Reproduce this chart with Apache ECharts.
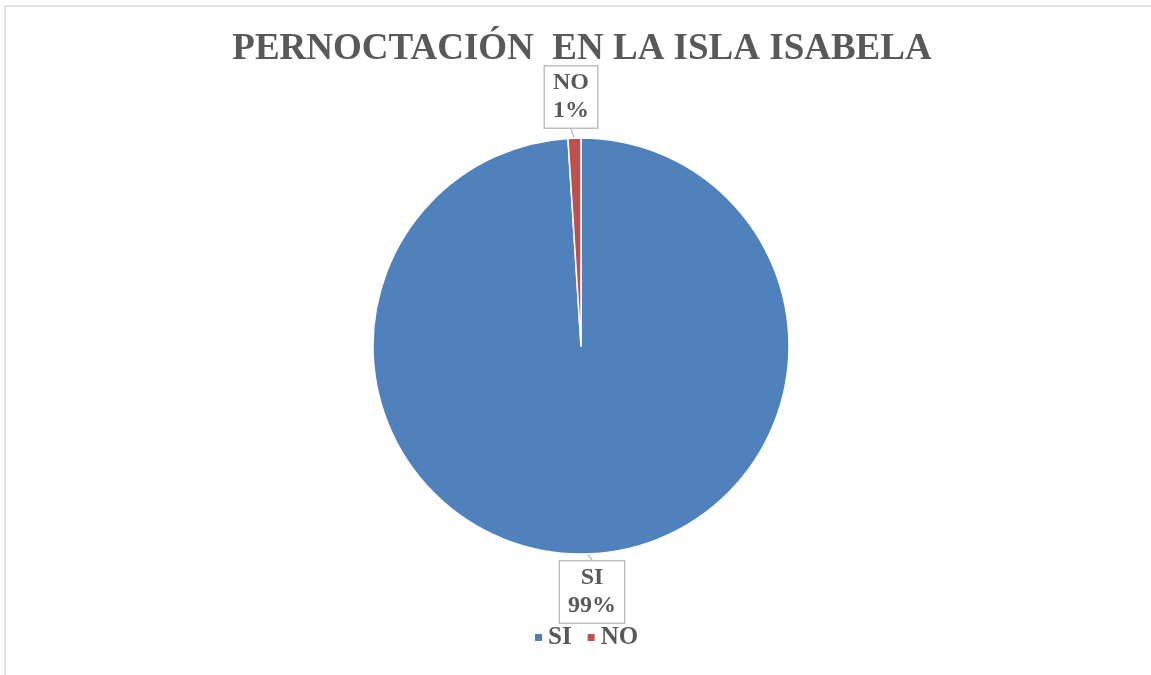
<!DOCTYPE html>
<html>
<head>
<meta charset="utf-8">
<script src="https://cdn.jsdelivr.net/npm/echarts@6/dist/echarts.min.js"></script>
<style>
  html, body { margin: 0; padding: 0; background: #fff; }
  #main { width: 1151px; height: 675px; }
</style>
</head>
<body>
<div id="main"></div>
<script>
const categories = ['SI', 'NO'];
const values = [99, 1];
const colors = ['#4F81BD', '#C0504D'];

const chart = echarts.init(document.getElementById('main'));

const font = '"Liberation Serif", "Times New Roman", serif';

// where the callout boxes sit (centre of each box)
const labelSpots = [[592, 592], [571, 97]];

const option = {
  color: colors,
  graphic: [{
    type: 'rect',
    shape: { x: 5, y: 6, width: 1200, height: 700 },
    style: { fill: 'none', stroke: '#d9d9d9', lineWidth: 1.5 },
    silent: true
  }],
  title: {
    text: 'PERNOCTACIÓN  EN LA ISLA ISABELA',
    left: 577,
    textAlign: 'center',
    top: 26,
    textStyle: {
      fontFamily: font,
      fontSize: 37,
      fontWeight: 'bold',
      color: '#595959'
    }
  },
  legend: {
    data: categories,
    bottom: 20,
    left: 528,
    icon: 'rect',
    itemWidth: 9,
    itemHeight: 9,
    itemGap: 14,
    textStyle: {
      fontFamily: font,
      fontSize: 25,
      fontWeight: 'bold',
      color: '#595959'
    }
  },
  series: [{
    type: 'pie',
    center: [581, 346],
    radius: 208,
    startAngle: 90,
    clockwise: true,
    data: categories.map((name, i) => ({ name, value: values[i] })),
    itemStyle: { borderColor: '#fff', borderWidth: 1.5 },
    label: {
      show: true,
      position: 'outside',
      formatter: (p) => p.name + '\n' + Math.round(p.percent) + '%',
      fontFamily: font,
      fontSize: 24,
      fontWeight: 'bold',
      color: '#595959',
      lineHeight: 28,
      align: 'center',
      backgroundColor: '#fff',
      borderColor: '#bfbfbf',
      borderWidth: 1.5,
      padding: [3, 8, 2, 8]
    },
    labelLine: {
      show: true,
      length: 6,
      length2: 0,
      lineStyle: { color: '#bfbfbf', width: 1.5 }
    },
    labelLayout: (params) => ({
      x: labelSpots[params.dataIndex][0],
      y: labelSpots[params.dataIndex][1],
      align: 'center',
      verticalAlign: 'middle'
    }),
    emphasis: { disabled: true }
  }]
};

chart.setOption(option);
</script>
</body>
</html>
